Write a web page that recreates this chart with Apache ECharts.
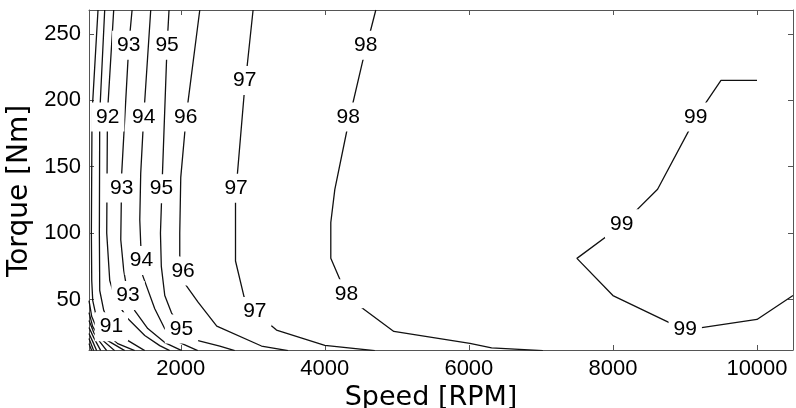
<!DOCTYPE html>
<html>
<head>
<meta charset="utf-8">
<script src="https://cdn.jsdelivr.net/npm/echarts@6/dist/echarts.min.js"></script>
<style>
html,body{margin:0;padding:0;background:#fff;}
#chart{width:796px;height:408px;}
</style>
</head>
<body>
<div id="chart"></div>
<script>
// Tick values
const speedTicks = [2000, 4000, 6000, 8000, 10000];
const torqueTicks = [50, 100, 150, 200, 250];

// Contour lines: [speed RPM, torque Nm]
const c83 = [[726,16.8],[764,11.5]];
const c84 = [[726,20.6],[792,11.5]];
const c85 = [[726,24.4],[778,18.3],[833,11.5]];
const c86 = [[726,28.9],[792,21.3],[889,11.5]];
const c87 = [[726,34.2],[792,25.1],[875,18.3],[972,11.5]];
const c88 = [[726,40.2],[778,29.6],[875,21.3],[1083,11.5]];
const c89 = [[726,49.2],[764,37.2],[847,26.6],[986,19.1],[1222,11.5]];
const c90 = [[851,268],[768,190],[759,100],[764,64.3],[778,49.2],[833,35.7],[944,25.1],[1125,16.8],[1361,11.5]];
const c91 = [[944,268],[875,190],[870,100],[875,56.8],[931,41.7],[1037,29.6],[1222,20.6],[1500,11.5]];
const c92 = [[1069,268],[982,190],[972,100],[1014,64.3],[1097,49.2],[1264,35.7],[1500,22.9],[1708,15.3],[1847,11.5]];
const c93 = [[1324,268],[1278,241],[1180,145],[1167,95],[1208,72],[1268,53],[1361,41.7],[1542,28.1],[1778,17.6],[2014,11.5]];
const c94 = [[1583,268],[1486,188],[1444,145],[1431,110],[1444,92],[1472,68],[1639,43],[1778,28],[1986,17.6],[2236,11.5]];
const c95 = [[1837,268],[1810,241.5],[1746,145],[1718,100],[1730,75],[1778,53],[1871,40],[2010,28],[2240,19],[2542,15],[2750,11.5]];
const c96 = [[2264,268],[2101,199],[2056,176],[2000,142],[1986,100],[1986,83],[2069,61],[2240,48],[2500,30],[3121,15],[3490,11.5]];
const c97 = [[3004,268],[2879,204],[2787,145],[2760,123],[2760,94],[2760,79],[2879,52],[3222,32],[3329,27],[4000,15.5],[4694,11.5]];
const c98 = [[4708,268],[4528,230],[4347,188],[4139,133],[4083,108],[4083,81],[4250,60],[4486,45],[4958,26],[6014,17],[6315,13.6],[7028,11.5]];
const c99 = [[10000,215],[9500,215],[9150,187],[8620,133],[8120,106],[7500,81],[8000,53],[9000,27],[10000,35],[10500,53]];

const contourLines = [c83, c84, c85, c86, c87, c88, c89, c90, c91, c92, c93, c94, c95, c96, c97, c98, c99];

// Contour labels: [speed, torque, text]
const contourLabels = [
  [1278,241.5,'93'],[1810,241.5,'95'],[2889,215,'97'],[4569,241.5,'98'],
  [986,187.5,'92'],[1486,187.5,'94'],[2069,187.5,'96'],[4324,187.5,'98'],[9149,187.5,'99'],
  [1180,134,'93'],[1732,133.5,'95'],[2768,133.7,'97'],[8121,107,'99'],
  [1454,79.4,'94'],[2032,71.5,'96'],[1268,53,'93'],[4301,54.3,'98'],[3028,41,'97'],
  [1037,29.6,'91'],[2010,27.9,'95'],[9004,27.9,'99']
];

const FONT = 'Liberation Sans, Arial, sans-serif';
const NAMEFONT = 'DejaVu Sans, sans-serif';
const chart = echarts.init(document.getElementById('chart'), null, {renderer: 'canvas'});

const axisCommon = {
  type: 'value',
  splitLine: {show: false},
  axisLine: {show: true, onZero: false, lineStyle: {color: '#555', width: 1}},
};
const plainNum = function (v) { return String(v); };

const series = contourLines.map(function (pts) {
  return {
    type: 'line',
    data: pts,
    showSymbol: false,
    symbol: 'none',
    silent: true,
    clip: true,
    lineStyle: {color: '#111', width: 1.3},
    z: 2
  };
});
series.push({
  type: 'scatter',
  data: contourLabels,
  symbol: 'circle',
  symbolSize: 0,
  itemStyle: {color: '#fff', opacity: 1},
  silent: true,
  z: 5,
  label: {
    show: true,
    position: 'inside',
    formatter: function (p) { return p.value[2]; },
    fontFamily: FONT,
    fontSize: 21,
    color: '#000',
    opacity: 1,
    backgroundColor: '#fff',
    padding: [4, 5]
  }
});

chart.setOption({
  animation: false,
  backgroundColor: '#fff',
  grid: {left: 89, right: 3, top: 10, bottom: 58, containLabel: false, outerBoundsMode: 'none'},
  xAxis: [
    Object.assign({}, axisCommon, {
      min: 726, max: 10500, position: 'bottom',
      name: 'Speed [RPM]', nameLocation: 'middle', nameGap: 28,
      nameTextStyle: {fontFamily: NAMEFONT, fontSize: 27, color: '#000', padding: [0, 20, 0, 0]},
      axisTick: {show: true, inside: true, length: 5, customValues: speedTicks, lineStyle: {color: '#555'}},
      axisLabel: {show: true, customValues: speedTicks, formatter: plainNum, fontFamily: FONT, fontSize: 22, color: '#000', margin: 8}
    }),
    Object.assign({}, axisCommon, {
      min: 726, max: 10500, position: 'top',
      axisTick: {show: true, inside: true, length: 5, customValues: speedTicks, lineStyle: {color: '#555'}},
      axisLabel: {show: false}
    })
  ],
  yAxis: [
    Object.assign({}, axisCommon, {
      min: 12, max: 268, position: 'left',
      name: 'Torque [Nm]', nameLocation: 'middle', nameGap: 53,
      nameTextStyle: {fontFamily: NAMEFONT, fontSize: 28, color: '#000', padding: [0, 22, 0, 0]},
      axisTick: {show: true, inside: true, length: 5, customValues: torqueTicks, lineStyle: {color: '#555'}},
      axisLabel: {show: true, customValues: torqueTicks, formatter: plainNum, fontFamily: FONT, fontSize: 22, color: '#000', margin: 8}
    }),
    Object.assign({}, axisCommon, {
      min: 12, max: 268, position: 'right',
      axisTick: {show: true, inside: true, length: 5, customValues: torqueTicks, lineStyle: {color: '#555'}},
      axisLabel: {show: false}
    })
  ],
  series: series
});
</script>
</body>
</html>
